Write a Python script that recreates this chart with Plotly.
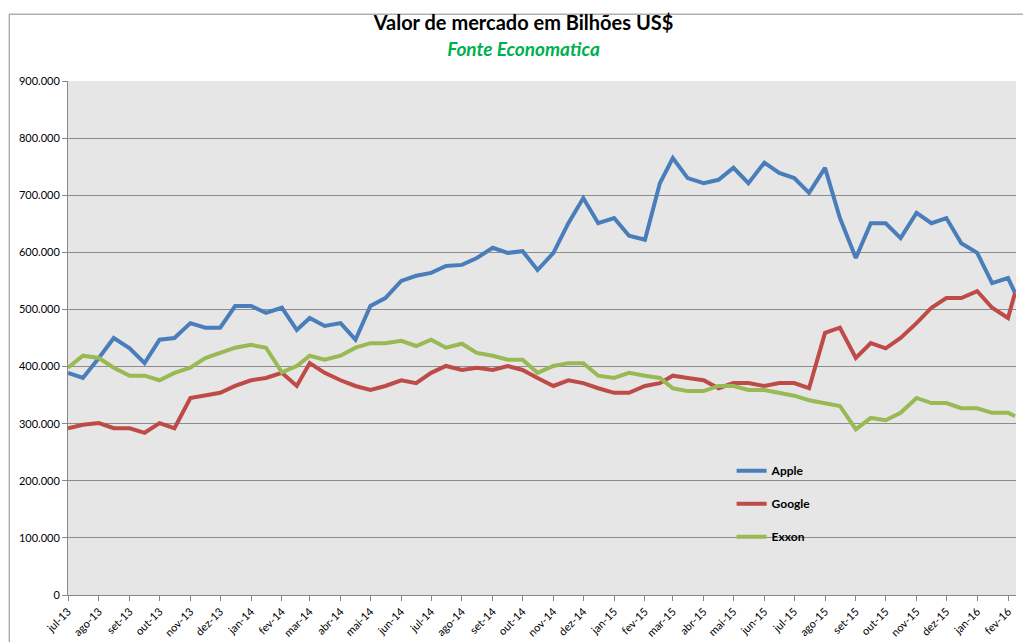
import pandas as pd
import plotly.graph_objects as go

# semi-monthly readings (1st and 16th), values in US$ thousands
months = pd.date_range("2013-07-01", "2016-01-01", freq="MS")
dates = [d for m in months for d in (m, m + pd.Timedelta(days=15))]
dates += [pd.Timestamp("2016-02-01"), pd.Timestamp("2016-02-08")]

apple = [389, 380, 415, 450, 432, 406, 447, 450, 476, 468, 468, 506, 506, 494, 503, 464,
         485, 471, 476, 447, 506, 520, 550, 559, 564, 576, 578, 590, 608, 599, 602, 569,
         599, 651, 695, 651, 660, 629, 622, 721, 765, 730, 721, 727, 748, 721, 757, 739,
         730, 704, 748, 660, 590, 651, 651, 625, 669, 651, 660, 616, 599, 546, 555, 529]
google = [292, 298, 301, 292, 292, 284, 301, 292, 345, 350, 354, 366, 376, 380, 389, 366,
          406, 389, 376, 366, 359, 366, 376, 371, 389, 401, 394, 398, 394, 401, 394, 380,
          366, 376, 371, 362, 354, 354, 366, 371, 384, 380, 376, 362, 371, 371, 366, 371,
          371, 362, 459, 468, 415, 441, 432, 450, 476, 503, 520, 520, 532, 503, 485, 529]
exxon = [398, 419, 415, 398, 384, 384, 376, 389, 398, 415, 424, 433, 438, 433, 390, 401,
         419, 412, 419, 433, 441, 441, 445, 436, 447, 433, 440, 424, 419, 412, 412, 389,
         401, 406, 406, 384, 380, 389, 384, 380, 362, 357, 357, 366, 366, 359, 359, 354,
         349, 341, 336, 331, 290, 310, 306, 319, 345, 336, 336, 327, 327, 319, 319, 313]

month_names = ["jan", "fev", "mar", "abr", "mai", "jun", "jul", "ago", "set", "out", "nov", "dez"]
tick_dates = pd.date_range("2013-07-01", "2016-02-01", freq="MS")
tick_text = [f"{month_names[d.month - 1]}-{d.strftime('%y')}" for d in tick_dates]

series = [("Apple", apple, "#4a7ebb"), ("Google", google, "#be4b48"), ("Exxon", exxon, "#98b954")]

fig = go.Figure()
for name, vals, color in series:
    fig.add_trace(go.Scatter(
        x=dates, y=[v * 1000 for v in vals], name=name, mode="lines",
        legendgroup=name, line=dict(color=color, width=4),
    ))

fig.update_layout(
    width=1031, height=642,
    paper_bgcolor="white", plot_bgcolor="#e6e6e6",
    font=dict(family="Lato, sans-serif", size=11, color="black"),
    separators=",.",
    margin=dict(l=60, r=23, t=73, b=55),
    title=dict(
        text="<b>Valor de mercado em Bilhões US$</b><br>"
             "<span style='color:#00b050;font-size:19px'><b><i>Fonte Economatica</i></b></span>",
        x=0.5, xanchor="center", y=0.965, yanchor="top",
        font=dict(size=20, family="Lato, sans-serif"),
    ),
    legend=dict(
        x=0.7, y=0.27, xanchor="left", yanchor="top",
        bgcolor="rgba(0,0,0,0)", tracegroupgap=14,
        font=dict(size=12, family="Lato, sans-serif", weight="bold"),
    ),
    showlegend=True,
    xaxis=dict(
        range=["2013-07-01", "2016-02-09"], tickvals=tick_dates, ticktext=tick_text,
        tickangle=-45, showgrid=False, ticks="outside", ticklen=5, tickcolor="#888",
        showline=True, linecolor="#888", zeroline=False, automargin=False,
    ),
    yaxis=dict(
        range=[0, 900000], dtick=100000, tickformat=",d", showgrid=True,
        gridcolor="#8c8c8c", gridwidth=1, ticks="outside", ticklen=5, tickcolor="#888",
        showline=True, linecolor="#888", zeroline=False, automargin=False,
    ),
    shapes=[dict(type="rect", xref="paper", yref="paper", x0=-0.062, x1=1.022, y0=-0.104, y1=1.13,
                 line=dict(color="#888", width=1))],
)

fig.write_html("out.html")
